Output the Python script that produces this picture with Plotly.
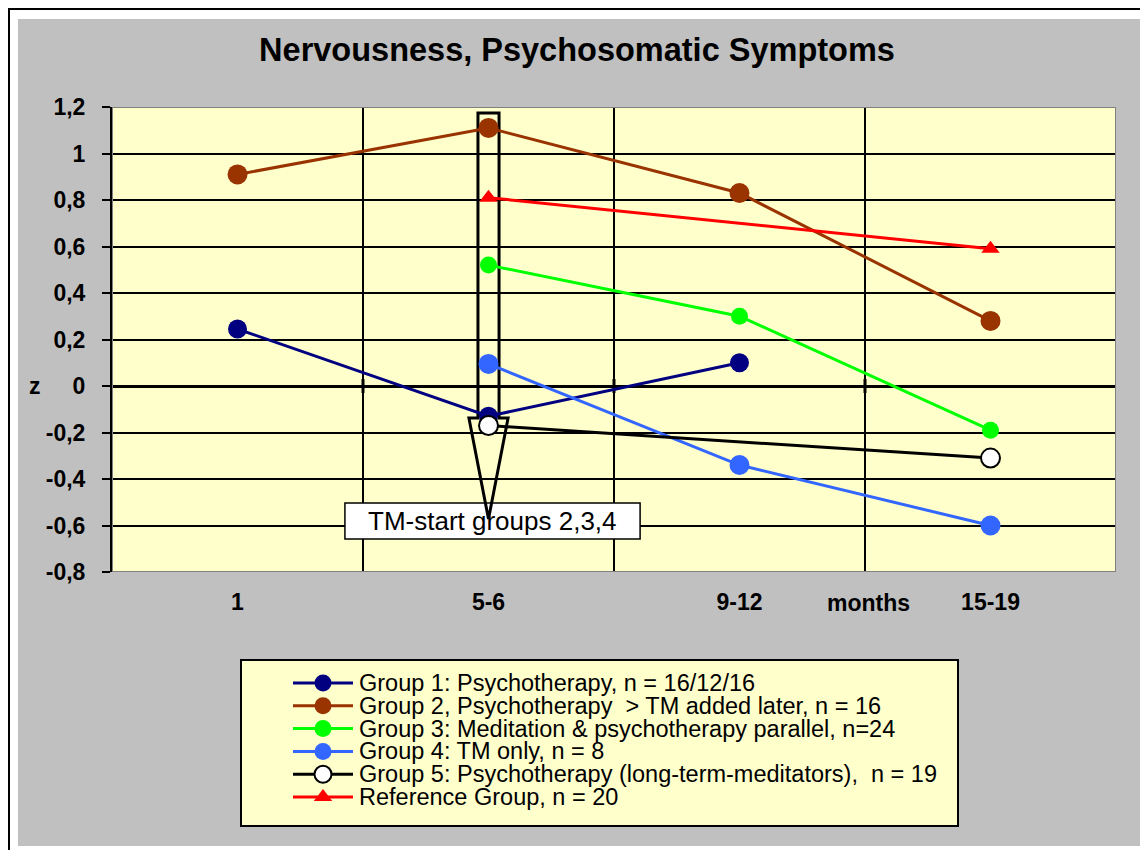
import plotly.graph_objects as go

# ---------------- data ----------------
categories = ["1", "5-6", "9-12", "15-19"]
group1 = [0.245, -0.13, 0.10, None]
group2 = [0.91, 1.11, 0.83, 0.28]
group3 = [None, 0.52, 0.30, -0.19]
group4 = [None, 0.095, -0.34, -0.60]
group5 = [None, -0.17, None, -0.31]
reference = [None, 0.81, None, 0.59]

y_tickvals = [1.2, 1.0, 0.8, 0.6, 0.4, 0.2, 0.0, -0.2, -0.4, -0.6, -0.8]
y_ticktext = ["1,2", "1", "0,8", "0,6", "0,4", "0,2", "0", "-0,2", "-0,4", "-0,6", "-0,8"]

names = [
    "Group 1: Psychotherapy, n = 16/12/16",
    "Group 2, Psychotherapy  > TM added later, n = 16",
    "Group 3: Meditation & psychotherapy parallel, n=24",
    "Group 4: TM only, n = 8",
    "Group 5: Psychotherapy (long-term-meditators),  n = 19",
    "Reference Group, n = 20",
]

# ---------------- geometry (screen pixels; page body has an 8px margin) ----------------
OFF = 8
W, H = 1140, 842

def px2x(px):
    return (px - OFF) / W

def py2y(py):
    return 1 - (py - OFF) / H

PLOT_X0, PLOT_X1, PLOT_Y0, PLOT_Y1 = 112, 1116, 107, 572

xpos = [i + 0.5 for i in range(len(categories))]
FONT = "Liberation Sans, Arial, sans-serif"

styles = [
    dict(color="#000080", size=19, symbol="circle", mcolor="#000080", mline=0),
    dict(color="#993300", size=20, symbol="circle", mcolor="#993300", mline=0),
    dict(color="#00FF00", size=17, symbol="circle", mcolor="#00FF00", mline=0),
    dict(color="#3366FF", size=20, symbol="circle", mcolor="#3366FF", mline=0),
    dict(color="#000000", size=19, symbol="circle", mcolor="#FFFFFF", mline=2),
    dict(color="#FF0000", size=16, symbol="triangle-up", mcolor="#FF0000", mline=0),
]
series = [group1, group2, group3, group4, group5, reference]

fig = go.Figure()
for vals, name, st in zip(series, names, styles):
    fig.add_trace(go.Scatter(
        x=xpos, y=vals, name=name, mode="lines+markers", connectgaps=True, showlegend=False,
        line=dict(color=st["color"], width=3),
        marker=dict(size=st["size"], symbol=st["symbol"], color=st["mcolor"],
                    line=dict(color="#000000", width=st["mline"])),
        xaxis="x", yaxis="y",
    ))

# ---------------- hand-built legend (samples on an auxiliary axis) ----------------
for i, (name, st) in enumerate(zip(names, styles)):
    fig.add_trace(go.Scatter(
        x=[0, 1], y=[i, i], mode="lines", showlegend=False, hoverinfo="skip",
        line=dict(color=st["color"], width=3), xaxis="x2", yaxis="y2"))
    fig.add_trace(go.Scatter(
        x=[0.5], y=[i], mode="markers", showlegend=False, hoverinfo="skip",
        marker=dict(size=min(st["size"], 17), symbol=st["symbol"], color=st["mcolor"],
                    line=dict(color="#000000", width=st["mline"])),
        xaxis="x2", yaxis="y2"))

LEG_ROW0, LEG_DY = 683, 22.8

shapes = []
# page frame: white strips and black lines (paper bg is gray)
for x0, y0, x1, y1 in [(0, 0, 18, 900), (0, 0, 1200, 19), (1140, 0, 1200, 900), (0, 846, 1200, 900)]:
    shapes.append(dict(type="rect", xref="paper", yref="paper", layer="below",
                       x0=px2x(x0), x1=px2x(x1), y0=py2y(y0), y1=py2y(y1),
                       fillcolor="white", line=dict(width=0)))
shapes.append(dict(type="line", xref="paper", yref="paper", layer="below",
                   x0=px2x(8), x1=px2x(1200), y0=py2y(9), y1=py2y(9),
                   line=dict(color="black", width=2)))
shapes.append(dict(type="line", xref="paper", yref="paper", layer="below",
                   x0=px2x(9), x1=px2x(9), y0=py2y(8), y1=py2y(900),
                   line=dict(color="black", width=2)))
# legend box
shapes.append(dict(type="rect", xref="paper", yref="paper", layer="below",
                   x0=px2x(241), x1=px2x(958), y0=py2y(660), y1=py2y(826),
                   fillcolor="#FFFFCC", line=dict(color="black", width=2)))
# plot area border
shapes.append(dict(type="rect", xref="x", yref="y", layer="between",
                   x0=0, x1=len(categories), y0=-0.8, y1=1.2,
                   line=dict(color="#808080", width=2)))
# tick marks on zero line at category boundaries
for b in range(1, len(categories)):
    shapes.append(dict(type="line", xref="x", yref="y", layer="between",
                       x0=b, x1=b, y0=-0.03, y1=0.03, line=dict(color="black", width=3)))

# TM-start block arrow at category "5-6"
cx = xpos[1]
shapes.append(dict(type="rect", xref="x", yref="y", layer="between",
                   x0=cx - 0.572, x1=cx + 0.604, y0=-0.658, y1=-0.503,
                   fillcolor="white", line=dict(color="black", width=1.5)))
sw, hw = 0.042, 0.078
ytop, yneck, ytip = 1.174, -0.138, -0.572
path = (f"M {cx - sw},{ytop} L {cx + sw},{ytop} L {cx + sw},{yneck} L {cx + hw},{yneck} "
        f"L {cx},{ytip} L {cx - hw},{yneck} L {cx - sw},{yneck} Z")
shapes.append(dict(type="path", xref="x", yref="y", layer="between", path=path,
                   line=dict(color="black", width=3)))

annotations = [
    dict(x=cx + 0.016, y=-0.58, xref="x", yref="y", text="TM-start groups 2,3,4",
         xanchor="center", yanchor="middle", showarrow=False,
         font=dict(family=FONT, size=26, color="black")),
    dict(x=px2x(35), y=0, xref="paper", yref="y", text="<b>z</b>", showarrow=False,
         xanchor="center", yanchor="middle", font=dict(family=FONT, size=23, color="black")),
    dict(x=px2x(868), y=py2y(603), xref="paper", yref="paper", text="<b>months</b>",
         xanchor="center", yanchor="middle", showarrow=False,
         font=dict(family=FONT, size=23, color="black")),
]
for i, name in enumerate(names):
    annotations.append(dict(x=px2x(357), y=i, xref="paper", yref="y2", text=name,
                            xanchor="left", yanchor="middle", showarrow=False,
                            font=dict(family=FONT, size=23.5, color="black")))

fig.update_layout(
    width=W, height=H,
    margin=dict(l=0, r=0, t=0, b=0, pad=0, autoexpand=False),
    paper_bgcolor="#C0C0C0",
    plot_bgcolor="#FFFFCC",
    title=dict(text="<b>Nervousness, Psychosomatic Symptoms</b>", x=px2x(577), xref="paper",
               y=py2y(50), yref="paper", yanchor="middle", xanchor="center",
               font=dict(family=FONT, size=32.5, color="black")),
    font=dict(family=FONT, color="black"),
    showlegend=False,
    shapes=shapes,
    annotations=annotations,
    xaxis=dict(
        domain=[px2x(PLOT_X0), px2x(PLOT_X1)], anchor="y",
        range=[0, len(categories)], tickvals=xpos, ticktext=[f"<b>{c}</b>" for c in categories],
        tickfont=dict(family=FONT, size=23, color="black"),
        showgrid=False, zeroline=False, ticks="", ticklabelstandoff=14,
        minor=dict(tick0=0, dtick=1, showgrid=True, gridcolor="black", gridwidth=1.5, ticks=""),
        showline=False, fixedrange=True, automargin=False,
    ),
    yaxis=dict(
        domain=[py2y(PLOT_Y1), py2y(PLOT_Y0)], anchor="x",
        range=[-0.8, 1.2], tickvals=y_tickvals, ticktext=[f"<b>{t}</b>" for t in y_ticktext],
        tickfont=dict(family=FONT, size=23, color="black"),
        showgrid=True, gridcolor="black", gridwidth=1.5,
        zeroline=True, zerolinecolor="black", zerolinewidth=3,
        ticks="outside", ticklen=8, tickwidth=2, tickcolor="black", ticklabelstandoff=12,
        showline=True, linecolor="black", linewidth=2, fixedrange=True, automargin=False,
    ),
    xaxis2=dict(domain=[px2x(293), px2x(353)], range=[0, 1], anchor="y2", visible=False,
                fixedrange=True, automargin=False),
    yaxis2=dict(domain=[py2y(LEG_ROW0 + 5.5 * LEG_DY), py2y(LEG_ROW0 - 0.5 * LEG_DY)],
                range=[5.5, -0.5], anchor="x2", visible=False, fixedrange=True, automargin=False),
)

fig.write_html("out.html")
